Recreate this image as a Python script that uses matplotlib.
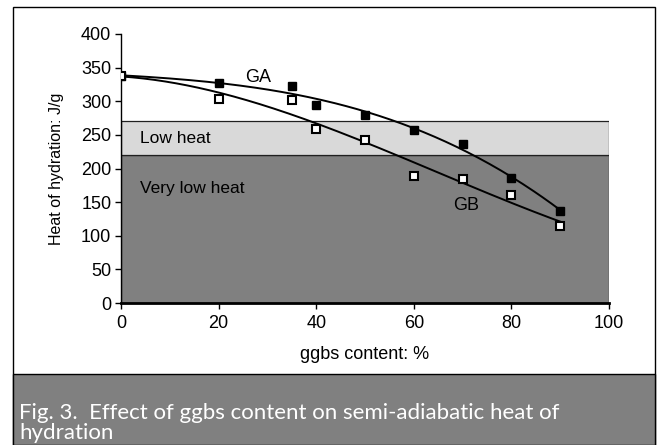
import numpy as np
import matplotlib
matplotlib.use("Agg")
import matplotlib.pyplot as plt
from matplotlib.patches import Rectangle

# ggbs replacement level (%) and measured heat of hydration (J/g)
ggbs = [0, 20, 35, 40, 50, 60, 70, 80, 90]
heat_ga = [338, 327, 323, 295, 279, 257, 237, 186, 137]
heat_gb = [338, 304, 302, 258, 243, 189, 184, 161, 115]

# classification bands (J/g)
very_low_limit = 220
low_limit = 270

x_ticks = [0, 20, 40, 60, 80, 100]
y_ticks = [0, 50, 100, 150, 200, 250, 300, 350, 400]

caption_lines = ["Fig. 3.  Effect of ggbs content on semi-adiabatic heat of",
                 "hydration"]

plt.rcParams["font.family"] = ["Liberation Sans", "DejaVu Sans"]

W, H = 661, 445
fig = plt.figure(figsize=(W / 100, H / 100), dpi=100)
fig.patch.set_facecolor("white")

# outer frame and caption strip
fig.patches.append(Rectangle((13 / W, 0), (655 - 13) / W, 1 - 7 / H,
                             transform=fig.transFigure, facecolor="none",
                             edgecolor="black", linewidth=1.0))
fig.patches.append(Rectangle((13 / W, 0), (655 - 13) / W, 1 - 374 / H,
                             transform=fig.transFigure, facecolor="#808080",
                             edgecolor="black", linewidth=1.0))
for line, base in zip(caption_lines, (419, 439)):
    fig.text(19 / W, 1 - base / H, line, color="white", fontsize=16,
             family=["Lato", "DejaVu Sans"], va="baseline", ha="left")

ax = fig.add_axes([121 / W, 1 - 303 / H, (609 - 121) / W, (303 - 34) / H])

ax.add_patch(Rectangle((0, 0), 100, very_low_limit, facecolor="#808080",
                       edgecolor="#202020", linewidth=0.9, zorder=1))
ax.add_patch(Rectangle((0, very_low_limit), 100, low_limit - very_low_limit,
                       facecolor="#d9d9d9", edgecolor="#202020", linewidth=0.9, zorder=1))

# polynomial trendlines through each series
xs = np.linspace(0, 90, 200)
for vals in (heat_ga, heat_gb):
    coef = np.polyfit(ggbs, vals, 3)
    ax.plot(xs, np.polyval(coef, xs), color="black", linewidth=1.4, zorder=3)

ax.plot(ggbs, heat_ga, linestyle="none", marker="s", markersize=5.5,
        markerfacecolor="black", markeredgecolor="black", zorder=4)
ax.plot(ggbs, heat_gb, linestyle="none", marker="s", markersize=5.5,
        markerfacecolor="white", markeredgecolor="black", markeredgewidth=1.5, zorder=5)

ax.text(28, 336, "GA", fontsize=13, ha="center", va="center")
ax.text(70.8, 145, "GB", fontsize=13, ha="center", va="center")
ax.text(3.8, 244, "Low heat", fontsize=12.5, ha="left", va="center")
ax.text(3.8, 170, "Very low heat", fontsize=12.5, ha="left", va="center")

ax.set_xlim(0, 100)
ax.set_ylim(0, 400)
ax.set_xticks(x_ticks)
ax.set_yticks(y_ticks)
ax.tick_params(labelsize=13, direction="out", length=4, width=1)
ax.tick_params(axis="x", pad=5)
ax.tick_params(axis="y", pad=3)
for s in ("top", "right"):
    ax.spines[s].set_visible(False)
ax.spines["left"].set_linewidth(1.0)
ax.spines["bottom"].set_linewidth(2.0)
ax.set_facecolor("white")
ax.set_xlabel("ggbs content: %", fontsize=13, labelpad=10)
ax.set_ylabel("Heat of hydration: J/g", fontsize=11.5, labelpad=12)

fig.savefig("out.png", dpi=100)
